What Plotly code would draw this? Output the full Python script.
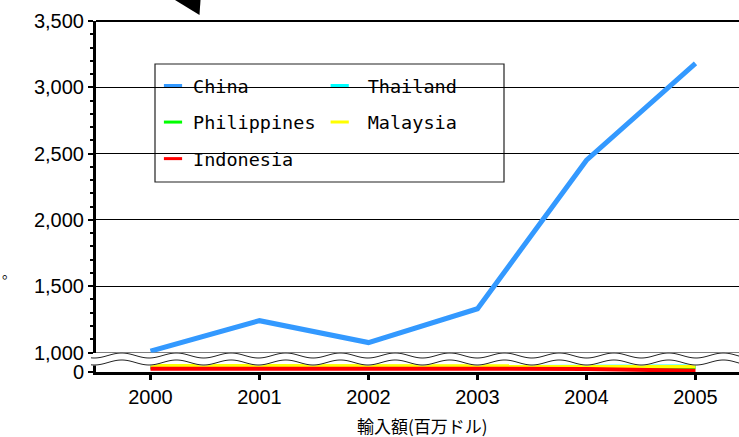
import numpy as np
import plotly.graph_objects as go

# Import values (million US$) by origin, 2000-2005
years = [2000, 2001, 2002, 2003, 2004, 2005]
china = [1010, 1240, 1075, 1330, 2450, 3180]
philippines = [38, 36, 35, 36, 40, 42]
thailand = [42, 40, 38, 40, 44, 46]
malaysia = [50, 48, 47, 49, 46, 48]
indonesia = [28, 27, 27, 28, 26, 10]

colors = {
    "China": "rgb(51,153,255)",
    "Thailand": "#00ffff",
    "Philippines": "#00ff00",
    "Malaysia": "#ffff00",
    "Indonesia": "#ff0000",
}

W, H = 739, 437
ML, MR, MT, MB = 96, 0, 21, 65
PW, PH = W - ML - MR, H - MT - MB


def px_x(px):
    return (px - ML) / PW


def px_y(py):
    return (H - MB - py) / PH


fig = go.Figure()

# small series sit on the lower (0-based) segment of the broken axis
for name, vals in [("Thailand", thailand), ("Philippines", philippines),
                   ("Malaysia", malaysia), ("Indonesia", indonesia)]:
    fig.add_trace(go.Scatter(x=years, y=vals, mode="lines", name=name,
                             line=dict(color=colors[name], width=4),
                             xaxis="x", yaxis="y", showlegend=False,
                             legendgroup=name))

fig.add_trace(go.Scatter(x=years, y=china, mode="lines", name="China",
                         line=dict(color=colors["China"], width=5),
                         xaxis="x", yaxis="y2", showlegend=False,
                         legendgroup="China"))

# legend entries (short dash swatches), two columns
for name, leg in [("China", "legend"), ("Philippines", "legend"), ("Indonesia", "legend"),
                  ("Thailand", "legend2"), ("Malaysia", "legend2")]:
    fig.add_trace(go.Scatter(x=[None], y=[None], mode="markers", name=name,
                             marker=dict(symbol="line-ew-open", size=13,
                                         color=colors[name],
                                         line=dict(color=colors[name], width=3)),
                             legend=leg, legendgroup=name, showlegend=True,
                             xaxis="x", yaxis="y2"))

tick_font = dict(family="Liberation Sans, Arial, sans-serif", size=20, color="black")
leg_font = dict(family="DejaVu Sans Mono, monospace", size=18.5, color="black")

lower_top = px_y(360)
upper_bottom = px_y(352.5)

fig.update_layout(
    width=W, height=H,
    margin=dict(l=ML, r=MR, t=MT, b=MB),
    paper_bgcolor="white", plot_bgcolor="white",
    xaxis=dict(range=[1999.5, 1999.5 + PW / 109.0], tickvals=years,
               ticks="outside", ticklen=5, tickwidth=3, tickcolor="black",
               showline=True, linewidth=3, linecolor="black",
               showgrid=False, zeroline=False, tickfont=tick_font,
               anchor="y"),
    yaxis=dict(domain=[0, lower_top], range=[0, 100], tickvals=[0], ticktext=["0"],
               ticks="outside", ticklen=5, tickwidth=2, tickcolor="black",
               showline=True, linewidth=3, linecolor="black",
               showgrid=False, zeroline=False, tickfont=tick_font, anchor="x"),
    yaxis2=dict(domain=[upper_bottom, 1], range=[1000, 3500], dtick=500,
                tickformat=",d", ticks="outside", ticklen=5, tickwidth=2,
                tickcolor="black", showline=True, linewidth=3, linecolor="black",
                showgrid=True, gridcolor="black", gridwidth=1, zeroline=False,
                minor=dict(dtick=100, ticks="outside", ticklen=3, tickwidth=1.5,
                           tickcolor="black", showgrid=False),
                tickfont=tick_font, anchor="x"),
    legend=dict(x=px_x(153), y=px_y(67), xanchor="left", yanchor="top",
                orientation="v", bgcolor="rgba(0,0,0,0)", borderwidth=0,
                font=leg_font, tracegroupgap=9.5, itemwidth=30),
    legend2=dict(x=px_x(311.7), y=px_y(67), xanchor="left", yanchor="top",
                 orientation="v", bgcolor="rgba(0,0,0,0)", borderwidth=0,
                 font=leg_font, tracegroupgap=9.5, itemwidth=46),
    showlegend=True,
)

shapes = []
# legend frame
shapes.append(dict(type="rect", xref="paper", yref="paper",
                   x0=px_x(155), x1=px_x(504), y0=px_y(182), y1=px_y(64),
                   fillcolor="white", line=dict(color="#222", width=1.2),
                   layer="between"))
# top border
shapes.append(dict(type="line", xref="paper", yref="paper", x0=0, x1=1.0,
                   y0=1, y1=1, line=dict(color="black", width=2), layer="above"))
# 1,000 grid line at the foot of the upper segment
shapes.append(dict(type="line", xref="paper", yref="y2", x0=0, x1=1.0,
                   y0=1000, y1=1000, line=dict(color="black", width=1), layer="between"))

# wavy axis-break band
xs = np.arange(91, W + 1, 1.0)
period, peak_x, amp = 54.7, 121.7, 2.5
wave = -amp * np.cos(2 * np.pi * (xs - peak_x) / period)
up_y = 355.5 + wave
lo_y = 362.5 + wave


def to_path(xp, yp, close=False):
    pts = [f"{px_x(a):.5f},{px_y(b):.5f}" for a, b in zip(xp, yp)]
    p = "M" + " L".join(pts)
    return p + " Z" if close else p


band = to_path(np.concatenate([xs, xs[::-1]]), np.concatenate([up_y - 0.5, lo_y[::-1] + 0.5]), close=True)
shapes.append(dict(type="path", xref="paper", yref="paper", path=band,
                   fillcolor="white", line=dict(width=0), layer="above"))
for yy in (up_y, lo_y):
    shapes.append(dict(type="path", xref="paper", yref="paper", path=to_path(xs, yy),
                       line=dict(color="#222", width=1), layer="above"))

# arrow head entering from above
tri = f"M{px_x(175):.5f},{px_y(0):.5f} L{px_x(200.5):.5f},{px_y(0):.5f} L{px_x(199.5):.5f},{px_y(15):.5f} Z"
shapes.append(dict(type="path", xref="paper", yref="paper", path=tri,
                   fillcolor="black", line=dict(width=0), layer="above"))

fig.update_layout(shapes=shapes)

fig.add_annotation(text="輸入額(百万ドル)", xref="paper", yref="paper",
                   x=px_x(422.5), y=px_y(425.5), showarrow=False,
                   xanchor="center", yanchor="middle",
                   font=dict(family="Noto Sans CJK JP, sans-serif", size=17, color="black"))
fig.add_annotation(text="。", xref="paper", yref="paper",
                   x=px_x(0), y=px_y(272), showarrow=False,
                   xanchor="left", yanchor="middle",
                   font=dict(family="Noto Sans CJK JP, sans-serif", size=14, color="black"))

fig.write_html("out.html")
